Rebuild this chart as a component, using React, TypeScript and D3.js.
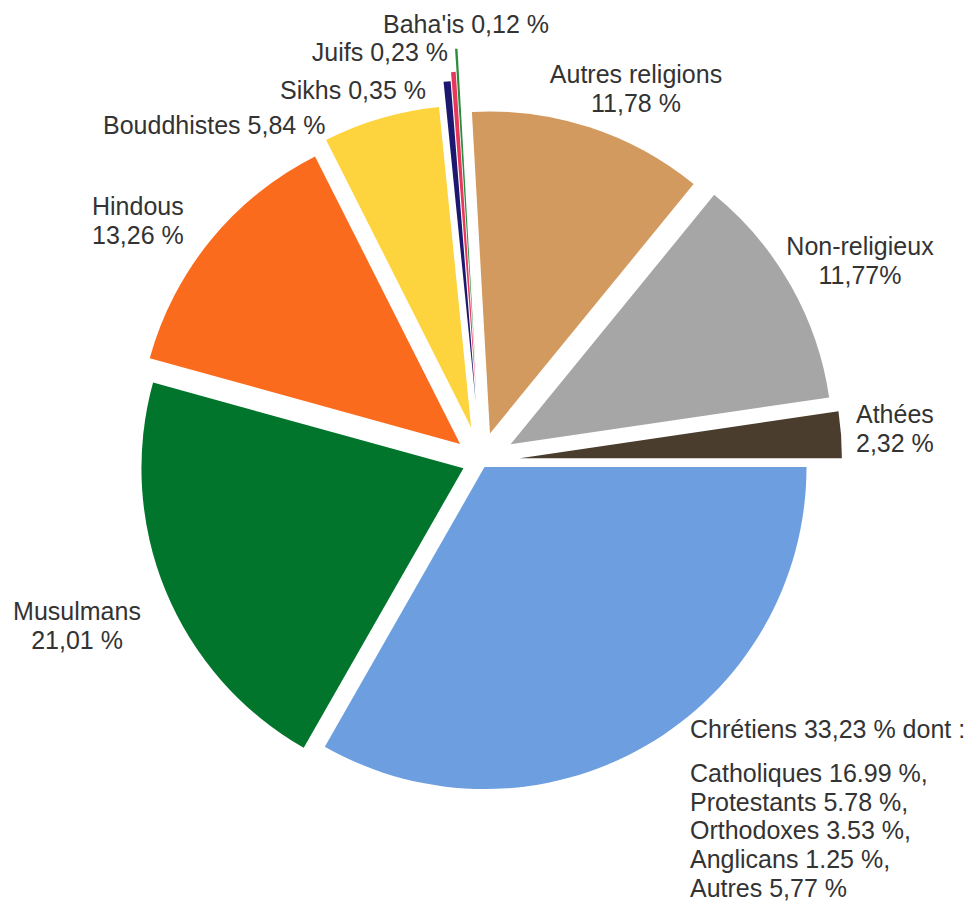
import React from 'react';
import * as d3 from 'd3';

// ---- data ----
const categories = [
  'Chrétiens', 'Musulmans', 'Hindous', 'Bouddhistes', 'Sikhs', 'Juifs', "Baha'is",
  'Autres religions', 'Non-religieux', 'Athées',
];
const values = [33.23, 21.01, 13.26, 5.84, 0.35, 0.23, 0.12, 11.78, 11.77, 2.32];
const labelLines = [
  ['Chrétiens 33,23 % dont :'],
  ['Musulmans', '21,01 %'],
  ['Hindous', '13,26 %'],
  ['Bouddhistes 5,84 %'],
  ['Sikhs 0,35 %'],
  ['Juifs 0,23 %'],
  ["Baha'is 0,12 %"],
  ['Autres religions', '11,78 %'],
  ['Non-religieux', '11,77%'],
  ['Athées', '2,32 %'],
];
const christianDetail = [
  'Catholiques 16.99 %,',
  'Protestants 5.78 %,',
  'Orthodoxes 3.53 %,',
  'Anglicans 1.25 %,',
  'Autres 5,77 %',
];

// ---- styles / layout ----
const colors = ['#6d9ee0', '#00752b', '#fa6b1d', '#fdd43d', '#1c1870', '#e8375c', '#2a8c3c', '#d39a5f', '#a6a6a6', '#4b3d2e'];
const explode = [7, 19, 27, 35, 59, 68, 91, 29, 34, 39];
const labelLayout: { x: number; y: number; anchor: string }[] = [
  { x: 690, y: 738, anchor: 'start' },
  { x: 77, y: 620, anchor: 'middle' },
  { x: 92, y: 215, anchor: 'start' },
  { x: 103, y: 134, anchor: 'start' },
  { x: 426, y: 99, anchor: 'end' },
  { x: 448, y: 61, anchor: 'end' },
  { x: 383, y: 33, anchor: 'start' },
  { x: 636, y: 83, anchor: 'middle' },
  { x: 860, y: 255, anchor: 'middle' },
  { x: 856, y: 423, anchor: 'start' },
];

const W = 976;
const H = 911;
const CX = 481;
const CY = 461;
const R = 322;
const LINE = 29;

export default function App() {
  const pie = d3
    .pie<number>()
    .sort(null)
    .value((d) => d)
    .startAngle(Math.PI / 2)
    .endAngle(Math.PI / 2 + 2 * Math.PI);
  const arcs = pie(values);
  const arc = d3.arc<d3.PieArcDatum<number>>().innerRadius(0).outerRadius(R);

  return (
    <svg
      width={W}
      height={H}
      viewBox={`0 0 ${W} ${H}`}
      style={{ position: 'absolute', left: 0, top: 0, background: '#fff' }}
      fontFamily="'Liberation Sans', Arial, sans-serif"
    >
      <g transform={`translate(${CX},${CY})`}>
        {arcs.map((a, i) => {
          const mid = (a.startAngle + a.endAngle) / 2;
          const dx = Math.sin(mid) * explode[i];
          const dy = -Math.cos(mid) * explode[i];
          return (
            <path
              key={categories[i]}
              d={arc(a) || ''}
              transform={`translate(${dx},${dy})`}
              fill={colors[i]}
            />
          );
        })}
      </g>
      <g fill="#333" fontSize={25}>
        {labelLines.map((lines, i) => (
          <text key={categories[i]} x={labelLayout[i].x} y={labelLayout[i].y} textAnchor={labelLayout[i].anchor}>
            {lines.map((l, j) => (
              <tspan key={j} x={labelLayout[i].x} y={labelLayout[i].y + j * LINE}>
                {l}
              </tspan>
            ))}
          </text>
        ))}
        <text x={690} y={782}>
          {christianDetail.map((l, j) => (
            <tspan key={j} x={690} y={782 + j * 28.7}>
              {l}
            </tspan>
          ))}
        </text>
      </g>
    </svg>
  );
}
